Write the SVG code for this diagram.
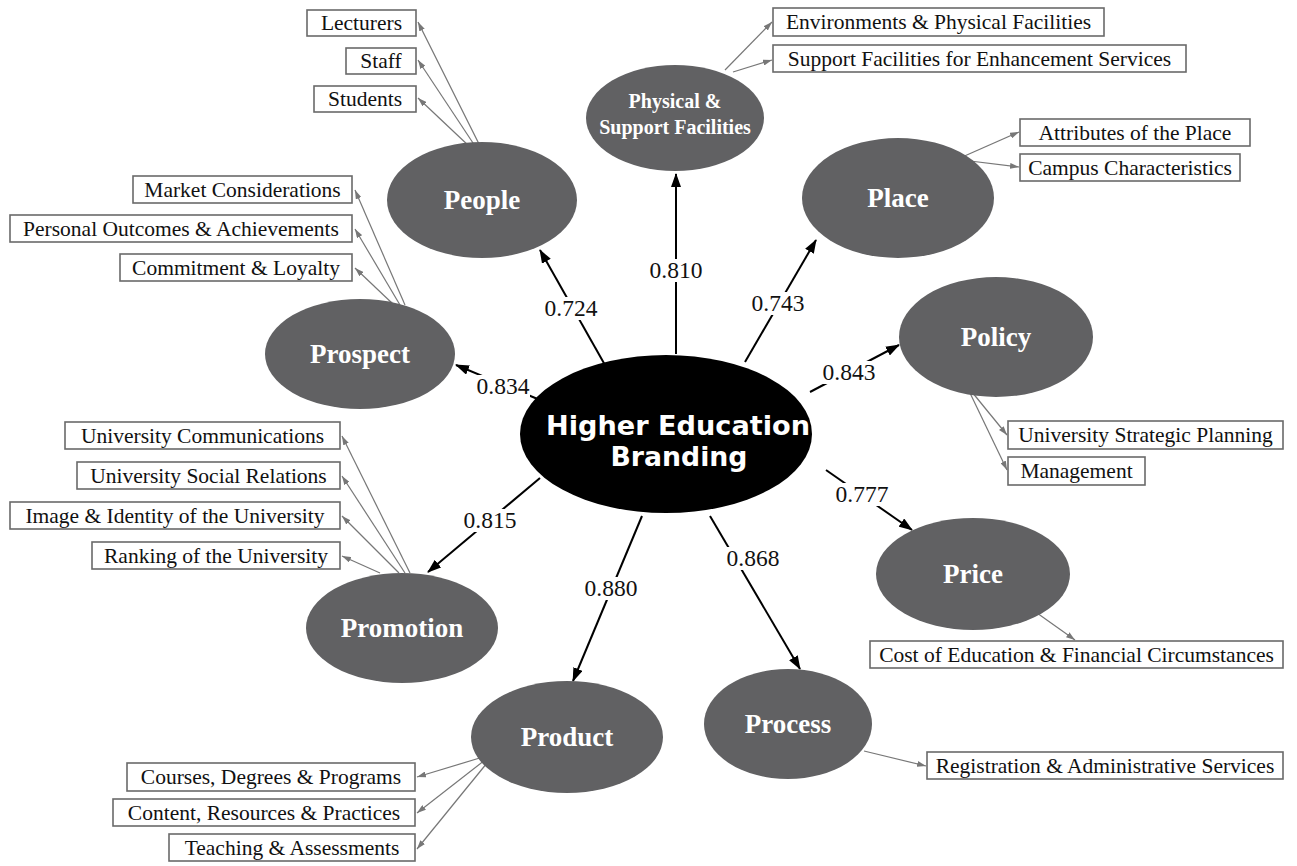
<svg xmlns="http://www.w3.org/2000/svg" width="1297" height="866" viewBox="0 0 1297 866">
  <style>
    .node { fill: #616163; }
    .core { fill: #000; }
    .nlabel { font-family: "Liberation Serif", serif; font-weight: bold; fill: #fff; text-anchor: middle; }
    .clabel { font-family: "DejaVu Sans", sans-serif; font-weight: bold; fill: #fff; text-anchor: middle; font-size: 26px; }
    .box { fill: #fff; stroke: #6a6a6a; stroke-width: 1.6; }
    .btext { font-family: "Liberation Serif", serif; font-size: 21.5px; fill: #111; text-anchor: middle; }
    .coef { font-family: "Liberation Serif", serif; font-size: 23.5px; fill: #111; text-anchor: middle; }
    .knock { fill: #fff; }
    .main { stroke: #000; stroke-width: 2; fill: none; marker-end: url(#bigArrow); }
    .sub { stroke: #777; stroke-width: 1.2; fill: none; marker-end: url(#smallArrow); }
  </style>
  <defs>
    <marker id="bigArrow" markerWidth="14" markerHeight="10" refX="13" refY="5" orient="auto" markerUnits="userSpaceOnUse">
      <path d="M0,0 L14,5 L0,10 Z" fill="#000"/>
    </marker>
    <marker id="smallArrow" markerWidth="9" markerHeight="6" refX="9" refY="3" orient="auto" markerUnits="userSpaceOnUse">
      <path d="M0,0 L9,3 L0,6 Z" fill="#777"/>
    </marker>
  </defs>
  <rect width="1297" height="866" fill="#fff"/>

  <!-- connectors -->
  <g id="connectors">
    <!-- core to dimensions -->
    <line class="main" x1="605" y1="365" x2="540" y2="250"/>
    <line class="main" x1="676" y1="354" x2="676" y2="174"/>
    <line class="main" x1="745" y1="362" x2="816" y2="240"/>
    <line class="main" x1="810" y1="392" x2="899" y2="345"/>
    <line class="main" x1="826" y1="470" x2="912" y2="530"/>
    <line class="main" x1="710" y1="516" x2="800" y2="669"/>
    <line class="main" x1="642" y1="516" x2="573" y2="681"/>
    <line class="main" x1="540" y1="478" x2="428" y2="572"/>
    <line class="main" x1="540" y1="400" x2="456" y2="365"/>
    <!-- dimensions to items -->
    <line class="sub" x1="480" y1="146" x2="418" y2="22"/>
    <line class="sub" x1="475" y1="146" x2="418" y2="60"/>
    <line class="sub" x1="470" y1="147" x2="418" y2="98"/>
    <line class="sub" x1="725" y1="70" x2="772" y2="22"/>
    <line class="sub" x1="733" y1="72" x2="772" y2="60"/>
    <line class="sub" x1="960" y1="158" x2="1019" y2="132"/>
    <line class="sub" x1="962" y1="160" x2="1019" y2="167"/>
    <line class="sub" x1="405" y1="305" x2="355" y2="190"/>
    <line class="sub" x1="400" y1="305" x2="355" y2="229"/>
    <line class="sub" x1="394" y1="305" x2="355" y2="268"/>
    <line class="sub" x1="410" y1="573" x2="342" y2="436"/>
    <line class="sub" x1="405" y1="573" x2="342" y2="476"/>
    <line class="sub" x1="399" y1="573" x2="342" y2="516"/>
    <line class="sub" x1="380" y1="573" x2="342" y2="556"/>
    <line class="sub" x1="972" y1="392" x2="1007" y2="435"/>
    <line class="sub" x1="970" y1="393" x2="1007" y2="470"/>
    <line class="sub" x1="1037" y1="613" x2="1075" y2="640"/>
    <line class="sub" x1="864" y1="751" x2="926" y2="766"/>
    <line class="sub" x1="483" y1="757" x2="417" y2="777"/>
    <line class="sub" x1="485" y1="760" x2="417" y2="813"/>
    <line class="sub" x1="487" y1="763" x2="417" y2="849"/>
  </g>

  <!-- path coefficients, each on a white plate that breaks its line -->
  <g id="coefficients">
    <rect class="knock" x="544" y="297" width="54" height="23"/><text class="coef" x="571" y="316">0.724</text>
    <rect class="knock" x="649" y="259" width="54" height="23"/><text class="coef" x="676" y="278">0.810</text>
    <rect class="knock" x="751" y="292" width="54" height="23"/><text class="coef" x="778" y="311">0.743</text>
    <rect class="knock" x="822" y="361" width="54" height="23"/><text class="coef" x="849" y="380">0.843</text>
    <rect class="knock" x="835" y="483" width="54" height="23"/><text class="coef" x="862" y="502">0.777</text>
    <rect class="knock" x="726" y="547" width="54" height="23"/><text class="coef" x="753" y="566">0.868</text>
    <rect class="knock" x="584" y="577" width="54" height="23"/><text class="coef" x="611" y="596">0.880</text>
    <rect class="knock" x="463" y="509" width="54" height="23"/><text class="coef" x="490" y="528">0.815</text>
    <rect class="knock" x="476" y="375" width="54" height="23"/><text class="coef" x="503" y="394">0.834</text>
  </g>

  <g id="core">
    <ellipse class="core" cx="666" cy="434" rx="146" ry="79"/>
    <text class="clabel" x="678" y="435" textLength="264" lengthAdjust="spacingAndGlyphs">Higher Education</text>
    <text class="clabel" x="679" y="466" textLength="137" lengthAdjust="spacingAndGlyphs">Branding</text>
  </g>

  <g id="people">
    <ellipse class="node" cx="482" cy="200" rx="95" ry="58"/>
    <text class="nlabel" x="482" y="209" font-size="27">People</text>
  </g>
  <g id="physical">
    <ellipse class="node" cx="675" cy="118" rx="89" ry="53"/>
    <text class="nlabel" x="675" y="108" font-size="20">Physical &amp;</text>
    <text class="nlabel" x="675" y="134" font-size="20">Support Facilities</text>
  </g>
  <g id="place">
    <ellipse class="node" cx="898" cy="198" rx="96" ry="60"/>
    <text class="nlabel" x="898" y="207" font-size="27">Place</text>
  </g>
  <g id="policy">
    <ellipse class="node" cx="996" cy="337" rx="97" ry="60"/>
    <text class="nlabel" x="996" y="346" font-size="27">Policy</text>
  </g>
  <g id="price">
    <ellipse class="node" cx="973" cy="574" rx="97" ry="56"/>
    <text class="nlabel" x="973" y="583" font-size="27">Price</text>
  </g>
  <g id="process">
    <ellipse class="node" cx="788" cy="724" rx="84" ry="55"/>
    <text class="nlabel" x="788" y="733" font-size="27">Process</text>
  </g>
  <g id="product">
    <ellipse class="node" cx="567" cy="737" rx="96" ry="56"/>
    <text class="nlabel" x="567" y="746" font-size="27">Product</text>
  </g>
  <g id="promotion">
    <ellipse class="node" cx="402" cy="628" rx="96" ry="55"/>
    <text class="nlabel" x="402" y="637" font-size="27">Promotion</text>
  </g>
  <g id="prospect">
    <ellipse class="node" cx="360" cy="354" rx="95" ry="55"/>
    <text class="nlabel" x="360" y="363" font-size="27">Prospect</text>
  </g>

  <!-- indicator boxes -->
  <g id="item-lecturers"><rect class="box" x="307" y="10" width="109" height="26"/><text class="btext" x="361.5" y="30">Lecturers</text></g>
  <g id="item-staff"><rect class="box" x="346" y="48" width="70" height="26"/><text class="btext" x="381" y="68">Staff</text></g>
  <g id="item-students"><rect class="box" x="314" y="86" width="102" height="26"/><text class="btext" x="365" y="106">Students</text></g>

  <g id="item-environments"><rect class="box" x="773" y="8" width="331" height="28"/><text class="btext" x="938.5" y="29">Environments &amp; Physical Facilities</text></g>
  <g id="item-support"><rect class="box" x="773" y="45" width="413" height="27"/><text class="btext" x="979.5" y="66">Support Facilities for Enhancement Services</text></g>

  <g id="item-attributes"><rect class="box" x="1020" y="119" width="230" height="27"/><text class="btext" x="1135" y="140">Attributes of the Place</text></g>
  <g id="item-campus"><rect class="box" x="1020" y="154" width="220" height="27"/><text class="btext" x="1130" y="175">Campus Characteristics</text></g>

  <g id="item-market"><rect class="box" x="133" y="176" width="219" height="27"/><text class="btext" x="242.5" y="197">Market Considerations</text></g>
  <g id="item-personal"><rect class="box" x="10" y="215" width="342" height="27"/><text class="btext" x="181" y="236">Personal Outcomes &amp; Achievements</text></g>
  <g id="item-commitment"><rect class="box" x="120" y="254" width="232" height="27"/><text class="btext" x="236" y="275">Commitment &amp; Loyalty</text></g>

  <g id="item-communications"><rect class="box" x="65" y="422" width="275" height="27"/><text class="btext" x="202.5" y="443">University Communications</text></g>
  <g id="item-social"><rect class="box" x="77" y="462" width="263" height="27"/><text class="btext" x="208.5" y="483">University Social Relations</text></g>
  <g id="item-image"><rect class="box" x="10" y="502" width="330" height="27"/><text class="btext" x="175" y="523">Image &amp; Identity of the University</text></g>
  <g id="item-ranking"><rect class="box" x="92" y="542" width="248" height="27"/><text class="btext" x="216" y="563">Ranking of the University</text></g>

  <g id="item-strategic"><rect class="box" x="1008" y="421" width="275" height="28"/><text class="btext" x="1145.5" y="442">University Strategic Planning</text></g>
  <g id="item-management"><rect class="box" x="1008" y="457" width="137" height="28"/><text class="btext" x="1076.5" y="478">Management</text></g>

  <g id="item-cost"><rect class="box" x="870" y="641" width="413" height="27"/><text class="btext" x="1076.5" y="662">Cost of Education &amp; Financial Circumstances</text></g>
  <g id="item-registration"><rect class="box" x="927" y="752" width="356" height="27"/><text class="btext" x="1105" y="773">Registration &amp; Administrative Services</text></g>

  <g id="item-courses"><rect class="box" x="127" y="763" width="288" height="28"/><text class="btext" x="271" y="784">Courses, Degrees &amp; Programs</text></g>
  <g id="item-content"><rect class="box" x="113" y="799" width="302" height="27"/><text class="btext" x="264" y="820">Content, Resources &amp; Practices</text></g>
  <g id="item-teaching"><rect class="box" x="169" y="834" width="246" height="27"/><text class="btext" x="292" y="855">Teaching &amp; Assessments</text></g>
</svg>
